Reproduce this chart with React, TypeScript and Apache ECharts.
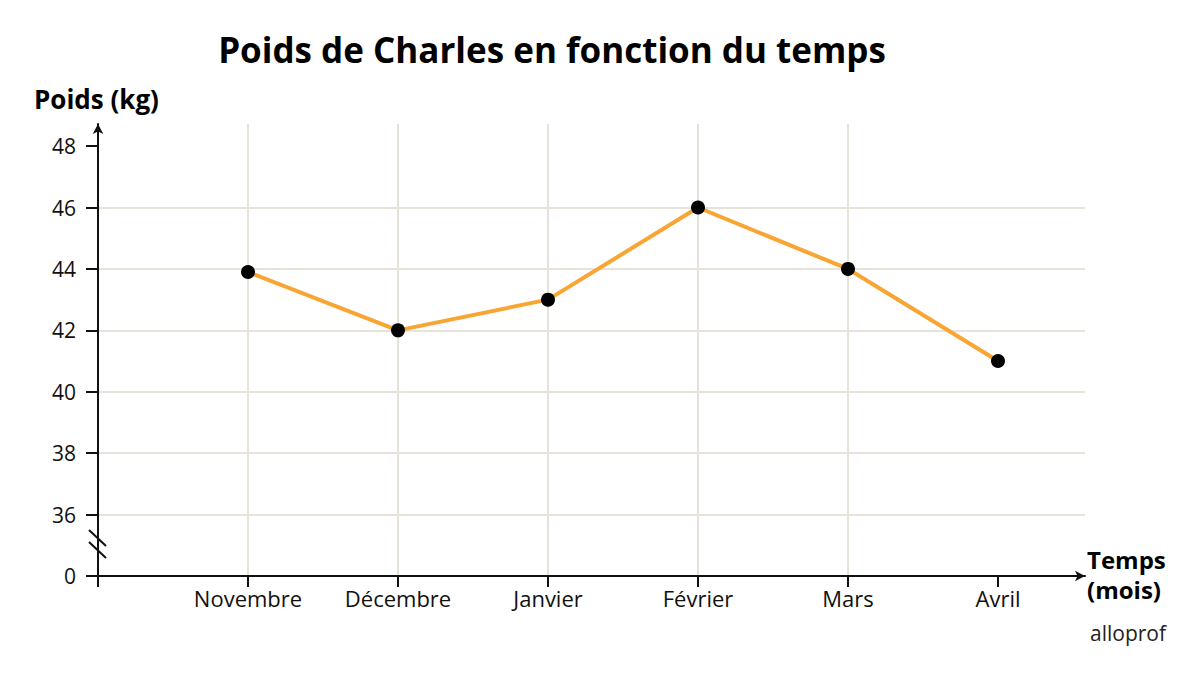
import React, { useEffect, useRef } from "react";
import * as echarts from "echarts";

const categories = ["Novembre", "Décembre", "Janvier", "Février", "Mars", "Avril"];
const weights = [43.9, 42, 43, 46, 44, 41];
const yTicks = [34, 36, 38, 40, 42, 44, 46, 48];
const yTickLabels = ["0", "36", "38", "40", "42", "44", "46", "48"];

const FONT = "'Open Sans', Lato, sans-serif";
const INK = "#111111";
const GRID = "#e8e3da";

export default function App() {
  const ref = useRef<HTMLDivElement>(null);
  useEffect(() => {
    if (!ref.current) return;
    const chart = echarts.init(ref.current, null, { renderer: "svg" });
    const xPositions = categories.map((_, i) => i + 1);
    chart.setOption({
      animation: false,
      backgroundColor: "#ffffff",
      grid: { left: 98, right: 115, top: 124, bottom: 100, containLabel: false },
      xAxis: {
        type: "value",
        min: 0,
        max: 6.58,
        interval: 1,
        axisLine: {
          show: true,
          lineStyle: { color: INK, width: 2 },
          symbol: ["none", "arrow"],
          symbolSize: [8, 10],
        },
        axisTick: {
          show: true,
          length: 11,
          lineStyle: { color: INK, width: 2 },
          customValues: [0, ...xPositions],
        },
        axisLabel: {
          customValues: xPositions,
          formatter: (v: number) => categories[Math.round(v) - 1] ?? "",
          color: INK,
          fontFamily: FONT,
          fontSize: 22,
          margin: 11,
        },
        splitLine: {
          show: true,
          showMinLine: false,
          showMaxLine: false,
          lineStyle: { color: GRID, width: 2 },
        },
      },
      yAxis: {
        type: "value",
        min: 34,
        max: 48.72,
        interval: 2,
        axisLine: {
          show: true,
          lineStyle: { color: INK, width: 2 },
          symbol: ["none", "arrow"],
          symbolSize: [8, 10],
        },
        axisTick: {
          show: true,
          length: 12,
          lineStyle: { color: INK, width: 2 },
          customValues: yTicks,
        },
        axisLabel: {
          customValues: yTicks,
          formatter: (v: number) => yTickLabels[yTicks.indexOf(Math.round(v))] ?? "",
          color: INK,
          fontFamily: FONT,
          fontSize: 21,
          margin: 22,
        },
        splitLine: {
          show: true,
          showMinLine: false,
          showMaxLine: false,
          lineStyle: { color: GRID, width: 2 },
        },
      },
      series: [
        {
          type: "line",
          data: weights.map((w, i) => [xPositions[i], w]),
          lineStyle: { color: "#f9a533", width: 4 },
          itemStyle: { color: "#000000" },
          symbol: "circle",
          symbolSize: 14,
          z: 5,
        },
      ],
      graphic: [
        {
          type: "text",
          x: 552,
          y: 32,
          style: {
            text: "Poids de Charles en fonction du temps",
            font: `bold 35px ${FONT}`,
            fill: "#000",
            textAlign: "center",
          },
        },
        {
          type: "text",
          x: 34,
          y: 86,
          style: { text: "Poids (kg)", font: `bold 26px ${FONT}`, fill: "#000" },
        },
        {
          type: "text",
          x: 1087,
          y: 547,
          style: { text: "Temps", font: `bold 24px ${FONT}`, fill: "#000" },
        },
        {
          type: "text",
          x: 1087,
          y: 577,
          style: { text: "(mois)", font: `bold 24px ${FONT}`, fill: "#000" },
        },
        {
          type: "text",
          x: 1090,
          y: 622,
          style: { text: "alloprof", font: `21px ${FONT}`, fill: "#222" },
        },
        {
          type: "line",
          shape: { x1: 89, y1: 530, x2: 106, y2: 546 },
          style: { stroke: INK, lineWidth: 2 },
          z: 10,
        },
        {
          type: "line",
          shape: { x1: 89, y1: 542, x2: 106, y2: 558 },
          style: { stroke: INK, lineWidth: 2 },
          z: 10,
        },
      ],
    });
    return () => chart.dispose();
  }, []);
  return (
    <div
      ref={ref}
      style={{ position: "absolute", left: 0, top: 0, width: 1200, height: 676 }}
    />
  );
}
